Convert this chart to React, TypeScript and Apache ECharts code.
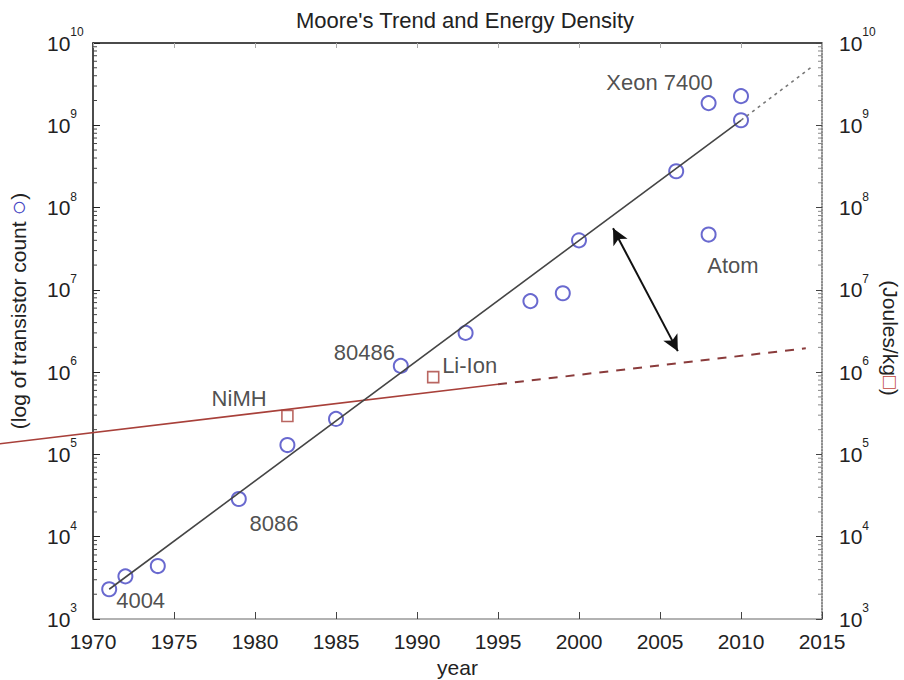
import React, { useEffect, useRef } from "react";
import * as echarts from "echarts";

// ---- data ----
const chipYears = [1971, 1972, 1974, 1979, 1982, 1985, 1989, 1993, 1997, 1999, 2000, 2006, 2008, 2008, 2010, 2010];
const chipCounts = [2300, 3300, 4400, 28700, 130000, 270000, 1.19e6, 3.0e6, 7.3e6, 9.1e6, 4.0e7, 2.76e8, 1.86e9, 4.7e7, 2.26e9, 1.15e9];

const batteryYears = [1982, 1991];
const batteryEnergy = [2.93e5, 8.7e5];

const trendSolidYears = [1971, 2010];
const trendSolidValues = [2300, 1.15e9];
const trendDottedYears = [2010, 2014.3];
const trendDottedValues = [1.15e9, 5.0e9];

const energySolidYears = [1964, 1995];
const energySolidValues = [1.33e5, 7.12e5];
const energyDashedYears = [1995, 2014];
const energyDashedValues = [7.12e5, 1.95e6];

const arrowYears = [2002.1, 2006.1];
const arrowValues = [5.6e7, 1.8e6];

const noteTexts = ["4004", "8086", "80486", "Li-Ion", "NiMH", "Xeon 7400", "Atom"];
const noteYears = [1972.94, 1981.17, 1986.75, 1993.25, 1979.02, 2004.97, 2009.5];
const noteValues = [1656, 14660, 1.75e6, 1.19e6, 4.84e5, 3.35e9, 2.0e7];

const yearMin = 1970;
const yearMax = 2015;
const yearStep = 5;
const logMin = 1e3;
const logMax = 1e10;

const FONT = "'Liberation Sans', Arial, Helvetica, sans-serif";

function pairs(xs: number[], ys: number[]) {
  return xs.map((x, i) => [x, ys[i]]);
}

function minorTickValues() {
  const out: number[][] = [];
  for (let e = 3; e < 10; e++) {
    for (let m = 2; m <= 9; m++) out.push([yearMin, m * Math.pow(10, e)]);
  }
  return out;
}

const powLabel = (v: number) => {
  const e = Math.round(Math.log10(v));
  return `{b|10}{s|${e}}`;
};

const richSup = {
  b: { fontSize: 21, fontFamily: FONT, color: "#222" },
  s: { fontSize: 12, fontFamily: FONT, color: "#222", padding: [0, 0, 22, 0] },
};

export default function App() {
  const ref = useRef<HTMLDivElement>(null);
  useEffect(() => {
    if (!ref.current) return;
    const chart = echarts.init(ref.current, undefined, { renderer: "svg" });
    const option: any = {
      animation: false,
      backgroundColor: "#fff",
      title: {
        text: "Moore's Trend and Energy Density",
        left: 460,
        top: 4,
        textAlign: "center",
        textStyle: { fontFamily: FONT, fontSize: 22, fontWeight: "normal", color: "#222" },
      },
      grid: { left: 93, right: 82, top: 43, bottom: 61, outerBoundsMode: "none", containLabel: false },
      xAxis: [
        {
          type: "value",
          min: yearMin,
          max: yearMax,
          interval: yearStep,
          position: "bottom",
          name: "year",
          nameLocation: "middle",
          nameGap: 34,
          nameTextStyle: { fontFamily: FONT, fontSize: 21, color: "#222" },
          axisLine: { show: true, lineStyle: { color: "#999", width: 1.5 } },
          axisTick: { show: true, inside: true, length: 7, lineStyle: { color: "#444" } },
          axisLabel: { fontFamily: FONT, fontSize: 21, color: "#222", margin: 12, formatter: (v: number) => String(v) },
          splitLine: { show: false },
        },
        {
          type: "value",
          min: yearMin,
          max: yearMax,
          interval: yearStep,
          position: "top",
          axisLine: { show: true, lineStyle: { color: "#111", width: 1.5 } },
          axisTick: { show: true, inside: true, length: 5, lineStyle: { color: "#aaa" } },
          axisLabel: { show: false },
          splitLine: { show: false },
        },
      ],
      yAxis: [
        {
          type: "log",
          logBase: 10,
          min: logMin,
          max: logMax,
          splitNumber: 7,
          position: "left",
          name: "(log of transistor count {c|○})",
          nameLocation: "middle",
          nameGap: 62,
          nameTextStyle: {
            fontFamily: FONT,
            fontSize: 21,
            color: "#222",
            padding: [0, 0, 0, 40],
            rich: { c: { fontSize: 26, color: "#4343c3" } },
          },
          axisLine: { show: true, lineStyle: { color: "#111", width: 1.5 } },
          axisTick: { show: true, inside: true, length: 7, lineStyle: { color: "#222" } },
          axisLabel: { formatter: powLabel, rich: richSup, align: "left", margin: 46 },
          splitLine: { show: false },
        },
        {
          type: "log",
          logBase: 10,
          min: logMin,
          max: logMax,
          splitNumber: 7,
          position: "right",
          name: "(Joules/kg{q|□})",
          nameLocation: "middle",
          nameRotate: -90,
          nameGap: 58,
          nameMoveOverlap: false,
          nameTextStyle: {
            fontFamily: FONT,
            fontSize: 21,
            color: "#222",
            padding: [0, 0, 0, 14],
            rich: { q: { fontSize: 21, color: "#c0443c" } },
          },
          axisLine: { show: true, lineStyle: { color: "#666", width: 1.5, type: "dotted" } },
          axisTick: { show: true, inside: true, length: 6, lineStyle: { color: "#444" } },
          axisLabel: { formatter: powLabel, rich: richSup, margin: 17 },
          splitLine: { show: false },
        },
      ],
      series: [
        {
          name: "minor ticks",
          type: "custom",
          silent: true,
          data: minorTickValues(),
          renderItem: (params: any, api: any) => {
            const v = api.value(1);
            const l = api.coord([yearMin, v]);
            const r = api.coord([yearMax, v]);
            return {
              type: "group",
              children: [
                { type: "line", shape: { x1: l[0], y1: l[1], x2: l[0] + 4, y2: l[1] }, style: { stroke: "#444", lineWidth: 1 } },
                { type: "line", shape: { x1: r[0], y1: r[1], x2: r[0] - 4, y2: r[1] }, style: { stroke: "#888", lineWidth: 1 } },
              ],
            };
          },
        },
        {
          name: "energy solid",
          type: "custom",
          yAxisIndex: 1,
          silent: true,
          clip: false,
          data: [pairs(energySolidYears, energySolidValues)[0]],
          renderItem: (params: any, api: any) => {
            const pts = energySolidYears.map((y, i) => api.coord([y, energySolidValues[i]]));
            return {
              type: "polyline",
              shape: { points: pts },
              style: { stroke: "#a8403a", lineWidth: 1.6, fill: null },
            };
          },
        },
        {
          name: "energy dashed",
          type: "line",
          yAxisIndex: 1,
          symbol: "none",
          data: pairs(energyDashedYears, energyDashedValues),
          lineStyle: { color: "#8a3b3b", width: 2, type: [9, 8] },
        },
        {
          name: "trend solid",
          type: "line",
          symbol: "none",
          data: pairs(trendSolidYears, trendSolidValues),
          lineStyle: { color: "#454545", width: 1.6 },
          markLine: {
            silent: true,
            symbol: ["arrow", "arrow"],
            symbolSize: [12, 16],
            label: { show: false },
            lineStyle: { color: "#111", width: 2, type: "solid", curveness: 0.06 },
            data: [
              [
                { coord: [arrowYears[0], arrowValues[0]] },
                { coord: [arrowYears[1], arrowValues[1]] },
              ],
            ],
          },
        },
        {
          name: "trend dotted",
          type: "line",
          symbol: "none",
          data: pairs(trendDottedYears, trendDottedValues),
          lineStyle: { color: "#777", width: 1.6, type: [3, 4] },
        },
        {
          name: "transistors",
          type: "scatter",
          symbol: "circle",
          symbolSize: 14,
          data: pairs(chipYears, chipCounts),
          itemStyle: { color: "rgba(0,0,0,0)", borderColor: "#4343c3", borderWidth: 2 },
        },
        {
          name: "batteries",
          type: "scatter",
          yAxisIndex: 1,
          symbol: "rect",
          symbolSize: 11,
          data: pairs(batteryYears, batteryEnergy),
          itemStyle: { color: "rgba(0,0,0,0)", borderColor: "#a8403a", borderWidth: 1.6 },
        },
        {
          name: "notes",
          type: "scatter",
          symbolSize: 1,
          silent: true,
          data: noteYears.map((y, i) => [y, noteValues[i], noteTexts[i]]),
          itemStyle: { color: "rgba(0,0,0,0)" },
          label: {
            show: true,
            position: "inside",
            formatter: (p: any) => p.data[2],
            fontFamily: FONT,
            fontSize: 22,
            color: "#222",
          },
        },
      ],
    };
    chart.setOption(option);
    return () => chart.dispose();
  }, []);
  return <div ref={ref} style={{ position: "fixed", left: 0, top: 0, width: 904, height: 680 }} />;
}
